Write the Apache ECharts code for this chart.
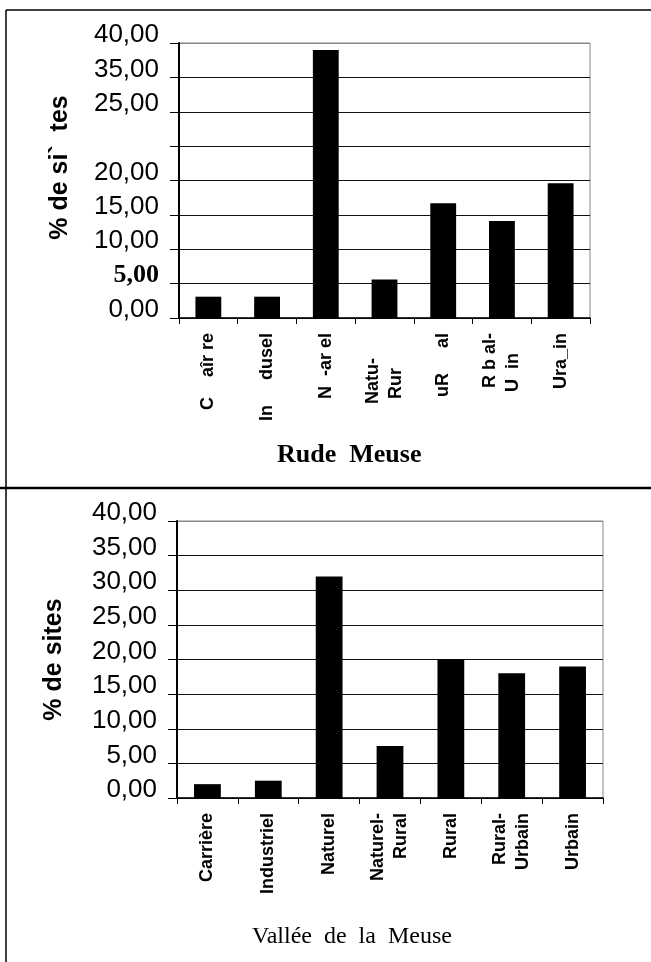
<!DOCTYPE html>
<html>
<head>
<meta charset="utf-8">
<script src="https://cdn.jsdelivr.net/npm/echarts@6/dist/echarts.min.js"></script>
<style>
  html, body { margin: 0; padding: 0; background: #fff; }
  #chart { width: 651px; height: 962px; }
</style>
</head>
<body>
<div id="chart"></div>
<script>
// Rude Meuse (haut) : libelles tels qu'imprimes sur le scan
const categoriesRude = ['C    aîr re', 'In     dusel', 'N  ‑ar el', 'Natu-     \nRur       ', 'uR     al', 'R b al-\nU  in    ', 'Ura_in'];
const valuesRude = [3.1, 3.1, 39.0, 5.6, 16.7, 14.1, 19.6];

// Vallee de la Meuse (bas)
const categoriesVallee = ['Carrière', 'Industriel', 'Naturel', 'Naturel-\nRural', 'Rural', 'Rural-\nUrbain', 'Urbain'];
const valuesVallee = [2.0, 2.5, 32.0, 7.5, 20.0, 18.0, 19.0];

// graduations de l'axe Y
const yTicks = [0, 5, 10, 15, 20, 25, 30, 35, 40];
const yLabelsRude = ['0,00', '{s|5,00}', '10,00', '15,00', '20,00', '', '25,00', '35,00', '40,00'];
const yLabelsVallee = ['0,00', '5,00', '10,00', '15,00', '20,00', '25,00', '30,00', '35,00', '40,00'];

const sans = 'Liberation Sans, Arial, sans-serif';
const serif = 'Liberation Serif, Times New Roman, serif';
// derniere ligne (40) plus claire, comme le bord du cadre
const splitColors = ['#111', '#111', '#111', '#111', '#111', '#111', '#111', '#111', '#888'];

function xAxisFor(idx, cats) {
  return {
    gridIndex: idx,
    type: 'category',
    data: cats,
    axisLine: { lineStyle: { color: '#000', width: 1.5 } },
    axisTick: { show: true, length: 6, lineStyle: { color: '#000' } },
    axisLabel: {
      rotate: 90,
      interval: 0,
      margin: 15,
      fontSize: 18,
      fontWeight: 'bold',
      fontFamily: sans,
      color: '#000',
      lineHeight: 23
    }
  };
}

function yAxisFor(idx, name, labels, namePad, nameGap) {
  return {
    gridIndex: idx,
    type: 'value',
    min: 0,
    max: 40,
    interval: 5,
    name: name,
    nameLocation: 'middle',
    nameGap: nameGap,
    nameTextStyle: {
      fontSize: 25,
      fontWeight: 'bold',
      fontFamily: sans,
      color: '#000',
      padding: namePad
    },
    axisLine: { show: true, lineStyle: { color: '#000', width: 2 } },
    axisTick: { show: true, length: 9, lineStyle: { color: '#000' } },
    axisLabel: {
      fontSize: 26,
      fontFamily: sans,
      color: '#000',
      margin: 20,
      padding: [0, 0, 16, 0],
      formatter: (v) => labels[yTicks.indexOf(v)],
      rich: {
        s: { fontSize: 26, fontFamily: serif, fontWeight: 'bold', color: '#000' }
      }
    },
    splitLine: { show: true, lineStyle: { color: splitColors, width: 1 } }
  };
}

const chart = echarts.init(document.getElementById('chart'));

const option = {
  animation: false,
  backgroundColor: '#fff',
  title: [
    {
      text: 'Rude  Meuse',
      left: 272,
      top: 437,
      textStyle: { fontFamily: serif, fontWeight: 'bold', fontSize: 26, color: '#000' }
    },
    {
      text: 'Vallée  de  la  Meuse',
      left: 247,
      top: 920,
      textStyle: { fontFamily: serif, fontWeight: 'normal', fontSize: 24, color: '#000' }
    }
  ],
  grid: [
    { left: 179, top: 43, width: 411, height: 275, show: true, borderColor: '#888', borderWidth: 1 },
    { left: 177, top: 521, width: 426, height: 277, show: true, borderColor: '#888', borderWidth: 1 }
  ],
  xAxis: [xAxisFor(0, categoriesRude), xAxisFor(1, categoriesVallee)],
  yAxis: [
    yAxisFor(0, '% de si`  tes', yLabelsRude, [0, 0, 0, 26], 106),
    yAxisFor(1, '% de sites', yLabelsVallee, 0, 110)
  ],
  series: [
    {
      name: 'Rude Meuse',
      type: 'bar',
      xAxisIndex: 0,
      yAxisIndex: 0,
      data: valuesRude,
      barWidth: '44%',
      itemStyle: { color: '#000' }
    },
    {
      name: 'Vallée de la Meuse',
      type: 'bar',
      xAxisIndex: 1,
      yAxisIndex: 1,
      data: valuesVallee,
      barWidth: '44%',
      itemStyle: { color: '#000' }
    }
  ],
  // cadres de la page scannee
  graphic: [
    { type: 'line', shape: { x1: 6, y1: 10, x2: 651, y2: 10 }, style: { stroke: '#000', lineWidth: 1.5 } },
    { type: 'line', shape: { x1: 6, y1: 10, x2: 6, y2: 962 }, style: { stroke: '#000', lineWidth: 1.5 } },
    { type: 'line', shape: { x1: 0, y1: 488, x2: 651, y2: 488 }, style: { stroke: '#000', lineWidth: 2.5 } }
  ]
};

chart.setOption(option);
</script>
</body>
</html>
